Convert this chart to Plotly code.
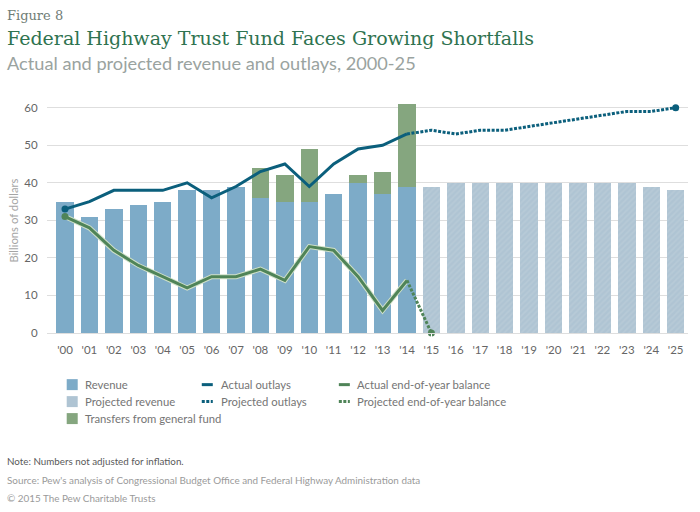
import plotly.graph_objects as go

# ---------------------------------------------------------------------------
# Data (billions of dollars)
# ---------------------------------------------------------------------------
YEARS = list(range(2000, 2026))
TICK_LABELS = [f"'{y % 100:02d}" for y in YEARS]

ACTUAL_YEARS = YEARS[:15]
PROJECTED_YEARS = YEARS[15:]

REVENUE = [35, 31, 33, 34, 35, 38, 38, 39, 36, 35, 35, 37, 40, 37, 39]
TRANSFERS = [0, 0, 0, 0, 0, 0, 0, 0, 8, 7, 14, 0, 2, 6, 22]
PROJECTED_REVENUE = [39, 40, 40, 40, 40, 40, 40, 40, 40, 39, 38]

OUTLAYS = [33, 35, 38, 38, 38, 40, 36, 39, 43, 45, 39, 45, 49, 50, 53]
PROJECTED_OUTLAYS = [53, 54, 53, 54, 54, 55, 56, 57, 58, 59, 59, 60]

BALANCE = [31, 28, 22, 18, 15, 12, 15, 15, 17, 14, 23, 22, 15, 6, 14]
PROJECTED_BALANCE = [14, 0]

# Colours
BLUE = "#7dabc8"
PALE_BLUE = "#afc4d3"
OLIVE = "#85a67f"
TEAL = "#0b5f7c"
GREEN = "#4f8458"
HALO = "#cfe0c8"
GRID = "#dedede"
TEXT = "#757575"
TICK_TEXT = "#666666"

FONT = "Lato"
DOTS = "3px,1.5px"

# Plot area in window pixels
L, R, T, B = 47.3, 688.0, 100.0, 333.3


def _px(x):
    return (x - L) / (R - L)


def _py(y):
    return (B - y) / (B - T)


def _label(text, x, y, size, color, family=FONT, **kw):
    return dict(
        text=text, showarrow=False,
        xref="paper", yref="paper",
        x=_px(x), y=_py(y),
        xanchor="left", yanchor="middle",
        font=dict(size=size, color=color, family=family),
        **kw,
    )


fig = go.Figure()

# --- Bars ---
fig.add_trace(go.Bar(x=ACTUAL_YEARS, y=REVENUE, name="Revenue",
                     marker=dict(color=BLUE, line_width=0)))
fig.add_trace(go.Bar(x=ACTUAL_YEARS, y=TRANSFERS, name="Transfers from general fund",
                     marker=dict(color=OLIVE, line_width=0)))
fig.add_trace(go.Bar(
    x=PROJECTED_YEARS, y=PROJECTED_REVENUE, name="Projected revenue",
    marker=dict(
        color=PALE_BLUE, line_width=0,
        pattern=dict(shape="/", fgcolor="#bfd0db", bgcolor=PALE_BLUE,
                     size=4, solidity=0.4),
    ),
))

# --- Balance lines (pale halo underneath) ---
fig.add_trace(go.Scatter(x=ACTUAL_YEARS, y=BALANCE, mode="lines",
                         line=dict(color=HALO, width=5), hoverinfo="skip"))
fig.add_trace(go.Scatter(x=ACTUAL_YEARS, y=BALANCE, mode="lines",
                         name="Actual end-of-year balance",
                         line=dict(color=GREEN, width=3)))
fig.add_trace(go.Scatter(x=YEARS[14:16], y=PROJECTED_BALANCE, mode="lines",
                         name="Projected end-of-year balance",
                         line=dict(color=GREEN, width=3, dash=DOTS)))
fig.add_trace(go.Scatter(x=[YEARS[0], YEARS[15]], y=[BALANCE[0], PROJECTED_BALANCE[-1]],
                         mode="markers", marker=dict(color=GREEN, size=7),
                         cliponaxis=False, hoverinfo="skip"))

# --- Outlay lines ---
fig.add_trace(go.Scatter(x=ACTUAL_YEARS, y=OUTLAYS, mode="lines",
                         name="Actual outlays",
                         line=dict(color=TEAL, width=3)))
fig.add_trace(go.Scatter(x=YEARS[14:], y=PROJECTED_OUTLAYS, mode="lines",
                         name="Projected outlays",
                         line=dict(color=TEAL, width=3, dash=DOTS)))
fig.add_trace(go.Scatter(x=[YEARS[0], YEARS[-1]], y=[OUTLAYS[0], PROJECTED_OUTLAYS[-1]],
                         mode="markers", marker=dict(color=TEAL, size=7),
                         cliponaxis=False, hoverinfo="skip"))

# --- Hand-placed legend, three columns like the original ---
shapes = []
annotations = []

legend_rows = [385, 402, 419]
swatches = [
    ("Revenue", BLUE, 0),
    ("Projected revenue", PALE_BLUE, 1),
    ("Transfers from general fund", OLIVE, 2),
]
for name, color, row in swatches:
    y = legend_rows[row]
    shapes.append(dict(type="rect", xref="paper", yref="paper",
                       x0=_px(67), x1=_px(78), y0=_py(y + 5.5), y1=_py(y - 5.5),
                       fillcolor=color, line_width=0))
    annotations.append(_label(name, 83.5, y, 11.3, TEXT))

line_keys = [
    ("Actual outlays", TEAL, "solid", 202, 219, 0),
    ("Projected outlays", TEAL, DOTS, 202, 219, 1),
    ("Actual end-of-year balance", GREEN, "solid", 339, 355.5, 0),
    ("Projected end-of-year balance", GREEN, DOTS, 339, 355.5, 1),
]
for name, color, dash, key_x, text_x, row in line_keys:
    y = legend_rows[row]
    shapes.append(dict(type="line", xref="paper", yref="paper",
                       x0=_px(key_x), x1=_px(key_x + 11), y0=_py(y), y1=_py(y),
                       line=dict(color=color, width=3, dash=dash)))
    annotations.append(_label(name, text_x, y, 11.3, TEXT))

# --- Heading and footer ---
annotations += [
    _label("Figure 8", 5, 15, 13, "#6f7d76", family="DejaVu Serif"),
    _label("Federal Highway Trust Fund Faces Growing Shortfalls", 5, 38, 19,
           "#2f7350", family="DejaVu Serif"),
    _label("Actual and projected revenue and outlays, 2000-25", 5, 63, 18.2, "#9aa3a0"),
    _label("Note: Numbers not adjusted for inflation.", 5, 461, 9.8, "#5a5a5a"),
    _label("Source: Pew's analysis of Congressional Budget Office and Federal "
           "Highway Administration data", 5, 480, 9.9, "#9a9a9a"),
    _label("\u00a9 2015 The Pew Charitable Trusts", 5, 499, 9.9, "#9a9a9a"),
]

annotations.append(dict(
    text="Billions of dollars", showarrow=False,
    xref="paper", yref="paper",
    x=_px(14), y=_py(221),
    textangle=-90, xanchor="center", yanchor="middle",
    font=dict(size=11.3, color="#a5a5a5", family=FONT),
))

fig.update_layout(
    width=700, height=512,
    margin=dict(l=L, r=700 - R, t=T, b=512 - B, pad=0),
    paper_bgcolor="white", plot_bgcolor="white",
    barmode="stack", bargap=0.29,
    showlegend=False,
    shapes=shapes,
    annotations=annotations,
    font=dict(family=FONT, color=TICK_TEXT, size=11.5),
    xaxis=dict(
        range=[1999.263, 2025.504],
        tickmode="array", tickvals=YEARS, ticktext=TICK_LABELS,
        tickangle=0, ticks="outside", ticklen=6, tickcolor="white",
        showgrid=False, zeroline=False,
        showline=True, linecolor=GRID, linewidth=1,
        tickfont=dict(size=11.5, color=TICK_TEXT),
    ),
    yaxis=dict(
        range=[0, 62.05],
        tickmode="array", tickvals=[0, 10, 20, 30, 40, 50, 60],
        ticks="outside", ticklen=6, tickcolor="white",
        showgrid=True, gridcolor=GRID, gridwidth=1,
        zeroline=False,
        tickfont=dict(size=11.5, color=TICK_TEXT),
    ),
)

fig.write_html("out.html", config=dict(displayModeBar=False),
               post_script="document.body.style.margin='0';")
